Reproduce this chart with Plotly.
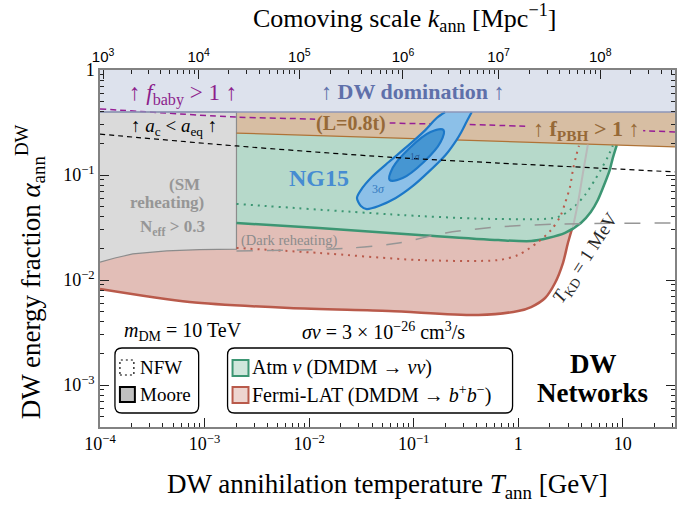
import numpy as np
import plotly.graph_objects as go

# ---------------- values ----------------
# bottom axis: DW annihilation temperature T_ann [GeV]
x_tick_vals = [1e-4, 1e-3, 1e-2, 1e-1, 1, 10]
x_tick_text = ["10<sup>−4</sup>", "10<sup>−3</sup>", "10<sup>−2</sup>", "10<sup>−1</sup>", "1", "10"]
# left axis: DW energy fraction
y_tick_vals = [1e-3, 1e-2, 1e-1, 1]
y_tick_text = ["10<sup>−3</sup>", "10<sup>−2</sup>", "10<sup>−1</sup>", "1"]
# top axis: comoving scale k_ann, located at these temperatures
k_tick_exponents = [3, 4, 5, 6, 7, 8]
k_tick_T = [1.07e-4, 8.79e-4, 8.07e-3, 7.91e-2, 0.650, 6.10]
k_tick_text = ["10<sup>3</sup>", "10<sup>4</sup>", "10<sup>5</sup>", "10<sup>6</sup>", "10<sup>7</sup>", "10<sup>8</sup>"]

# DW domination band
dw_dom_T = [1e-4, 31.6, 31.6, 1e-4]
dw_dom_alpha = [0.398, 0.398, 1.0, 1.0]
dw_border_T = [1e-4, 31.6]
dw_border_alpha = [0.398, 0.398]

# grey N_eff (SM reheating) region
sm_T = [1e-4, 1.39e-4, 2.06e-4, 4.35e-4, 8.95e-4, 2.02e-3, 2.02e-3, 1e-4]
sm_alpha = [0.0148, 0.0162, 0.0177, 0.0189, 0.0195, 0.0197, 0.398, 0.398]

# PBH band (L = 0.8 t)
pbh_T = [2.02e-3, 31.6, 31.6, 2.02e-3]
pbh_alpha = [0.251, 0.185, 0.398, 0.398]
pbh_edge_T = [2.02e-3, 31.6]
pbh_edge_alpha = [0.251, 0.185]

# Atm nu (Moore) lower boundary
atm_T = [2.02e-3, 1.24e-2, 0.112, 0.646, 1.33, 1.93, 2.81, 3.98, 4.95, 5.78, 6.75, 7.52, 8.03, 8.77]
atm_alpha = [0.0349, 0.0313, 0.0269, 0.0240, 0.0235, 0.0251, 0.0281, 0.0349, 0.0444, 0.0578,
             0.0839, 0.112, 0.145, 0.193]
# Atm nu (NFW)
atm_nfw_T = [2.02e-3, 0.112, 0.646, 2.40, 3.49, 4.35, 5.41, 6.17, 7.19, 8.03]
atm_nfw_alpha = [0.0530, 0.0407, 0.0381, 0.0398, 0.0507, 0.0645, 0.0895, 0.112, 0.148, 0.19]

# Fermi-LAT (Moore) lower boundary
fermi_T = [1e-4, 7.19e-4, 6.46e-3, 5.78e-2, 0.416, 1.0, 1.33, 1.81, 2.25, 2.68, 2.99, 3.27]
fermi_alpha = [0.0082, 0.00617, 0.00541, 0.00507, 0.00465, 0.00507, 0.00553, 0.00674, 0.00936,
               0.0145, 0.0225, 0.0306]
# Fermi-LAT (NFW)
fermi_nfw_T = [2.02e-3, 1.24e-2, 0.112, 0.646, 1.0, 1.55, 2.06, 2.51, 2.81, 3.13, 3.34, 3.56, 3.81]
fermi_nfw_alpha = [0.0202, 0.0181, 0.0155, 0.0155, 0.0173, 0.0230, 0.0299, 0.0398, 0.0541,
                   0.0769, 0.112, 0.148, 0.19]

# T_KD = 1 MeV line
tkd_T = [3.34, 3.73, 4.16, 4.64]
tkd_alpha = [0.0320, 0.0541, 0.104, 0.195]

# dark reheating boundary (long dash)
dark_T = [2.02e-3, 8.03e-3, 2.57e-2, 7.19e-2, 0.202, 0.646, 2.40, 31.6]
dark_alpha = [0.0189, 0.0193, 0.0202, 0.0225, 0.0281, 0.0320, 0.0341, 0.0349]

# a_c < a_eq (black dashed)
aeq_T = [1e-4, 2.02e-3, 5.78e-2, 0.646, 31.6]
aeq_alpha = [0.245, 0.189, 0.148, 0.130, 0.107]

# f_baby > 1 (purple dashed)
fbaby_T = [1e-4, 2.02e-3, 1.04e-2, 6.04e-2, 0.518, 31.6]
fbaby_alpha = [0.426, 0.356, 0.341, 0.313, 0.299, 0.257]

# NG15 contours
ng15_3s_T = [0.36, 0.320, 0.286, 0.257, 0.202, 0.139, 0.0957, 0.0675, 0.0464, 0.0356, 0.0313,
             0.0287, 0.0313, 0.0398, 0.0578, 0.0857, 0.130, 0.166, 0.2]
ng15_3s_alpha = [0.398, 0.320, 0.257, 0.215, 0.155, 0.107, 0.0769, 0.0604, 0.0507, 0.0474, 0.0507,
                 0.0604, 0.0719, 0.0957, 0.133, 0.185, 0.269, 0.349, 0.398]
ng15_1s_T = [0.193, 0.181, 0.125, 0.0785, 0.0590, 0.0631, 0.0916, 0.145, 0.193]
ng15_1s_alpha = [0.269, 0.206, 0.133, 0.0935, 0.0895, 0.117, 0.181, 0.257, 0.269]

# ---------------- styling ----------------
SERIF = "Liberation Serif"
SANS = "Liberation Sans"
C_DW = "rgb(221,226,237)"
C_DW_LINE = "rgb(140,150,185)"
C_GREY = "rgb(218,218,218)"
C_PBH = "rgb(215,190,163)"
C_PBH_LINE = "rgb(175,115,55)"
C_GREEN = "rgb(182,217,202)"
C_GREEN_LINE = "rgb(60,150,115)"
C_RED = "rgb(226,190,183)"
C_RED_LINE = "rgb(185,90,75)"
C_BLUE_LIGHT = "rgb(140,192,232)"
C_BLUE_DARK = "rgb(70,150,210)"
C_BLUE_LINE = "rgb(28,120,200)"

# plot-area geometry (pixels) used to place text
L, R, T0, B = 100, 2, 70, 79
W, H = 679, 506
PW, PH = W - L - R, H - T0 - B


def fx(px):
    return (px - L) / PW


def fy(py):
    return (H - B - py) / PH


def fill(x, y, color):
    return go.Scatter(x=x, y=y, mode="lines", fill="toself", fillcolor=color,
                      line=dict(width=0), hoverinfo="skip", showlegend=False)


def line(x, y, color, width, dash="solid", shape="spline"):
    return go.Scatter(x=x, y=y, mode="lines", hoverinfo="skip", showlegend=False,
                      line=dict(color=color, width=width, dash=dash, shape=shape, smoothing=0.8))


fig = go.Figure()
fig.add_trace(fill(dw_dom_T, dw_dom_alpha, C_DW))
fig.add_trace(fill(fermi_T + [3.27, 1e-4], fermi_alpha + [0.1, 0.1], C_RED))
fig.add_trace(fill(atm_T + [8.77, 2.02e-3], atm_alpha + [0.25, 0.30], C_GREEN))
fig.add_trace(fill(pbh_T, pbh_alpha, C_PBH))
fig.add_trace(go.Scatter(x=sm_T, y=sm_alpha, mode="lines", fill="toself", fillcolor=C_GREY,
                         line=dict(color="rgb(140,140,140)", width=1.2), hoverinfo="skip",
                         showlegend=False))
fig.add_trace(line(fermi_T, fermi_alpha, C_RED_LINE, 2.5))
fig.add_trace(line(atm_T, atm_alpha, C_GREEN_LINE, 2.5))
fig.add_trace(line(pbh_edge_T, pbh_edge_alpha, C_PBH_LINE, 1.2, shape="linear"))
fig.add_trace(line(fermi_nfw_T, fermi_nfw_alpha, C_RED_LINE, 2, dash="2px,5px"))
fig.add_trace(line(atm_nfw_T, atm_nfw_alpha, C_GREEN_LINE, 2, dash="2px,5px"))
fig.add_trace(line(tkd_T, tkd_alpha, "rgb(185,185,185)", 2))
fig.add_trace(line(dark_T, dark_alpha, "rgb(150,150,150)", 1.5, dash="16px,14px"))
fig.add_trace(line(fbaby_T, fbaby_alpha, "rgb(150,30,150)", 1.5, dash="6px,4px"))
# NG15
fig.add_trace(go.Scatter(x=ng15_3s_T, y=ng15_3s_alpha, mode="lines", fill="toself",
                         fillcolor=C_BLUE_LIGHT, line=dict(width=0, shape="spline", smoothing=0.8),
                         hoverinfo="skip", showlegend=False))
fig.add_trace(line(ng15_3s_T, ng15_3s_alpha, C_BLUE_LINE, 2.2))
fig.add_trace(go.Scatter(x=ng15_1s_T, y=ng15_1s_alpha, mode="lines", fill="toself",
                         fillcolor=C_BLUE_DARK,
                         line=dict(color=C_BLUE_LINE, width=2.2, shape="spline", smoothing=1.0),
                         hoverinfo="skip", showlegend=False))
fig.add_trace(line(dw_border_T, dw_border_alpha, C_DW_LINE, 1.5, shape="linear"))
fig.add_trace(line(aeq_T, aeq_alpha, "black", 1.2, dash="5px,4px"))
# carrier for the top axis
fig.add_trace(go.Scatter(x=[1e-3], y=[1e-2], xaxis="x2", mode="markers",
                         marker=dict(opacity=0), hoverinfo="skip", showlegend=False))

# minor ticks
x_minor = [m * 10.0 ** e for e in range(-4, 2) for m in range(2, 10) if m * 10.0 ** e < 31.6]
y_minor = [m * 10.0 ** e for e in range(-4, 0) for m in range(2, 10) if m * 10.0 ** e > 10 ** -3.4]
logkT = np.log10(k_tick_T)
k_minor = []
for i, n in enumerate(k_tick_exponents):
    lo = logkT[i]
    span = (logkT[i + 1] - logkT[i]) if i + 1 < len(logkT) else (logkT[i] - logkT[i - 1])
    for m in range(2, 10):
        v = lo + np.log10(m) * span
        if v < 1.5:
            k_minor.append(10 ** v)

axis_common = dict(type="log", showgrid=False, zeroline=False, showline=True,
                   linecolor="rgb(130,130,130)", linewidth=1.5, ticks="inside", ticklen=9,
                   tickwidth=1, tickcolor="#222")

fig.update_layout(
    width=W, height=H, margin=dict(l=L, r=R, t=T0, b=B),
    paper_bgcolor="white", plot_bgcolor="white", showlegend=False,
    font=dict(family=SERIF, color="black"),
    xaxis=dict(**axis_common, range=[-4, 1.5], tickvals=x_tick_vals, ticktext=x_tick_text,
               tickfont=dict(family=SERIF, size=18),
               minor=dict(tickvals=x_minor, ticks="inside", ticklen=4.5, tickcolor="#222")),
    xaxis2=dict(**axis_common, range=[-4, 1.5], overlaying="x", side="top", anchor="y",
                tickvals=k_tick_T, ticktext=k_tick_text,
                tickfont=dict(family=SANS, size=15),
                minor=dict(tickvals=k_minor, ticks="inside", ticklen=4.5, tickcolor="#222")),
    yaxis=dict(**axis_common, range=[-3.4, 0], mirror="ticks", tickvals=y_tick_vals,
               ticktext=y_tick_text, tickfont=dict(family=SERIF, size=18),
               minor=dict(tickvals=y_minor, ticks="inside", ticklen=4.5, tickcolor="#222")),
)


def ann(text, px, py, size, color="black", anchor="center", angle=0):
    fig.add_annotation(text=text, x=fx(px), y=fy(py), xref="paper", yref="paper",
                       showarrow=False, xanchor=anchor, yanchor="middle", textangle=angle,
                       font=dict(family=SERIF, size=size, color=color))


def mask(x0, y0, x1, y1, color):
    # opaque label background (like a text bbox) drawn above the curves
    fig.add_shape(type="rect", x0=fx(x0), x1=fx(x1), y0=fy(y1), y1=fy(y0), xref="paper",
                  yref="paper", fillcolor=color, line=dict(width=0), layer="above")


# axis titles
ann("DW annihilation temperature <i>T</i><sub>ann</sub> [GeV]", 389, 486, 27)
ann("Comoving scale <i>k</i><sub>ann</sub> [Mpc<sup>−1</sup>]", 406, 18, 26)
ann("DW energy fraction <i>α</i><sub>ann</sub><sup>DW</sup>", 30, 272, 27, angle=-90)

# region labels
ann("<b>↑ DW domination ↑</b>", 414, 91, 22, "rgb(95,112,170)")
ann("↑ <i>f</i><sub>baby</sub> > 1 ↑", 183, 95, 23, "rgb(140,30,140)")
ann("↑ <i>a</i><sub>c</sub> &lt; <i>a</i><sub>eq</sub> ↑", 174, 127, 19)
mask(316, 116, 390, 129, C_PBH)
ann("<b>(L=0.8t)</b>", 352, 123, 20, "rgb(150,105,55)")
mask(529, 122, 645, 137, C_PBH)
ann("<b>↑ f<sub>PBH</sub> > 1 ↑</b>", 588, 130, 22, "rgb(150,105,55)")
ann("<b>(SM</b>", 185, 184, 17, "rgb(150,150,150)")
ann("<b>reheating)</b>", 167, 202, 17, "rgb(150,150,150)")
ann("<b>N<sub>eff</sub> > 0.3</b>", 173, 228, 17, "rgb(150,150,150)")
ann("<b>NG15</b>", 320, 178, 24, "rgb(70,140,210)")
ann("3<i>σ</i>", 379, 189, 12, "rgb(50,120,190)")
ann("1<i>σ</i>", 416, 157, 9.5, "rgb(40,90,150)")
ann("(Dark reheating)", 290, 240, 14.5, "rgb(140,140,140)")
ann("<i>T</i><sub>KD</sub> = 1 MeV", 588, 258, 19, "rgb(40,40,40)", angle=-57)
ann("<i>m</i><sub>DM</sub> = 10 TeV", 183, 331, 20)
ann("<i>σv</i> = 3 × 10<sup>−26</sup> cm<sup>3</sup>/s", 384, 331, 20)
ann("<b>DW</b>", 595, 364, 27)
ann("<b>Networks</b>", 594, 393, 27)

# legend boxes


def rrect(x0, y0, x1, y1, r):
    rx, ry = r / PW, r / PH
    X0, X1, Y0, Y1 = fx(x0), fx(x1), fy(y1), fy(y0)
    return (f"M {X0 + rx},{Y0} L {X1 - rx},{Y0} Q {X1},{Y0} {X1},{Y0 + ry} "
            f"L {X1},{Y1 - ry} Q {X1},{Y1} {X1 - rx},{Y1} L {X0 + rx},{Y1} "
            f"Q {X0},{Y1} {X0},{Y1 - ry} L {X0},{Y0 + ry} Q {X0},{Y0} {X0 + rx},{Y0} Z")


for box in [(115, 348, 199, 413), (228, 348, 514, 413)]:
    fig.add_shape(type="path", path=rrect(*box, 7), xref="paper", yref="paper",
                  fillcolor="white", line=dict(color="black", width=1.3))


def square(x0, y0, x1, y1, fillc, linec, width, dash="solid"):
    fig.add_shape(type="rect", x0=fx(x0), x1=fx(x1), y0=fy(y1), y1=fy(y0), xref="paper",
                  yref="paper", fillcolor=fillc, line=dict(color=linec, width=width, dash=dash))


square(120, 360, 134, 375, "rgba(0,0,0,0)", "black", 1.2, dash="2px,3px")
square(120, 387, 135, 402, "rgb(192,192,192)", "black", 2)
square(233, 360, 249, 376, "rgb(208,231,220)", C_GREEN_LINE, 2)
square(233, 387, 249, 403, "rgb(238,213,208)", C_RED_LINE, 2)
ann("NFW", 138, 367, 19, anchor="left")
ann("Moore", 138, 394, 19, anchor="left")
ann("Atm <i>ν</i> (DMDM → <i>νν</i>)", 251, 367, 20, anchor="left")
ann("Fermi-LAT (DMDM → <i>b</i><sup>+</sup><i>b</i><sup>−</sup>)", 251, 394, 20, anchor="left")

fig.write_html("out.html", config={"displayModeBar": False},
               post_script="document.body.style.margin='0px';")
